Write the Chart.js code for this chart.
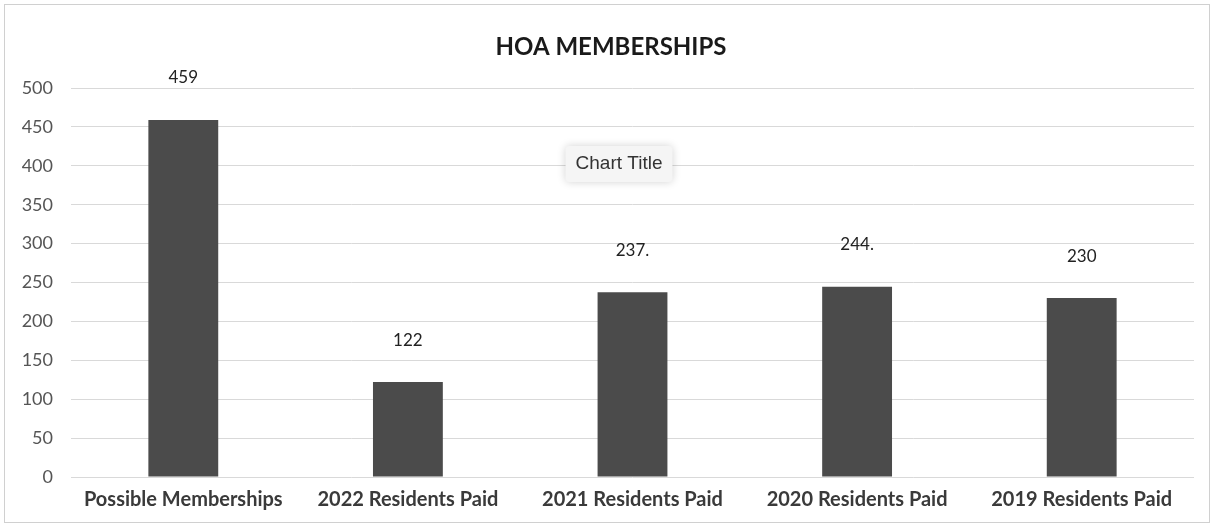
<!DOCTYPE html>
<html>
<head>
<meta charset="utf-8">
<script src="https://cdn.jsdelivr.net/npm/chart.js@4"></script>
<style>
  html, body { margin: 0; padding: 0; background: #fff; }
  #wrap { position: relative; width: 1215px; height: 529px; }
  #frame { position: absolute; left: 4px; top: 4px; width: 1206px; height: 519px; border: 1px solid #d0d0d0; box-sizing: border-box; pointer-events: none; }
  canvas { display: block; }
</style>
</head>
<body>
<div id="wrap">
  <canvas id="c" width="1215" height="529"></canvas>
  <div id="frame"></div>
</div>
<script>
const chartTitle = "HOA MEMBERSHIPS";
const categories = ["Possible Memberships", "2022 Residents Paid", "2021 Residents Paid", "2020 Residents Paid", "2019 Residents Paid"];
const values = [459, 122, 237.5, 244.5, 230];
const valueLabels = ["459", "122", "237.", "244.", "230"];
const yMin = 0, yMax = 500, yStep = 50;
const overlayText = "Chart Title";

const FONT = "Lato, 'Open Sans', 'Liberation Sans', sans-serif";

const decor = {
  id: 'decor',
  afterDatasetsDraw(chart) {
    const ctx = chart.ctx;
    const meta = chart.getDatasetMeta(0);
    ctx.save();
    ctx.font = "17px " + FONT;
    ctx.fillStyle = "#222";
    ctx.textAlign = "center";
    ctx.textBaseline = "middle";
    meta.data.forEach((bar, i) => {
      ctx.fillText(valueLabels[i], bar.x, bar.y - 42);
    });
    ctx.restore();
  },
  afterDraw(chart) {
    const ctx = chart.ctx;
    ctx.save();
    // title
    ctx.font = "bold 24px " + FONT;
    ctx.fillStyle = "#1a1a1a";
    ctx.textAlign = "center";
    ctx.textBaseline = "middle";
    ctx.fillText(chartTitle, 611, 47);
    // overlay "Chart Title" box
    ctx.font = "19px 'Liberation Sans', Arial, sans-serif";
    const tw = ctx.measureText(overlayText).width;
    const cx = 619, cy = 164, w = tw + 20, h = 36;
    ctx.shadowColor = "rgba(0,0,0,0.18)";
    ctx.shadowBlur = 8;
    ctx.fillStyle = "#f5f5f5";
    ctx.beginPath();
    ctx.roundRect(cx - w / 2, cy - h / 2, w, h, 4);
    ctx.fill();
    ctx.shadowBlur = 0;
    ctx.shadowColor = "transparent";
    ctx.fillStyle = "#333";
    ctx.fillText(overlayText, cx, cy);
    ctx.restore();
  }
};

new Chart(document.getElementById('c'), {
  type: 'bar',
  data: {
    labels: categories,
    datasets: [{
      data: values,
      backgroundColor: "#4b4b4b",
      borderWidth: 0,
      categoryPercentage: 1.0,
      barPercentage: 0.311
    }]
  },
  options: {
    responsive: false,
    animation: false,
    devicePixelRatio: 1,
    layout: { padding: { top: 88, right: 21, bottom: 0, left: 0 } },
    plugins: { legend: { display: false }, title: { display: false }, tooltip: { enabled: false } },
    scales: {
      x: {
        grid: { display: false, drawTicks: false },
        border: { display: false },
        ticks: { font: { family: FONT, size: 20, weight: 'bold' }, color: "#3a3a3a", padding: 11, maxRotation: 0, autoSkip: false },
        afterFit(scale) { scale.height = 52; }
      },
      y: {
        min: yMin, max: yMax,
        ticks: { stepSize: yStep, font: { family: FONT, size: 18 }, color: "#555", padding: 18 },
        grid: { color: "#d9d9d9", drawTicks: false, lineWidth: 1 },
        border: { display: false },
        afterFit(scale) { scale.width = 71; }
      }
    }
  },
  plugins: [decor]
});
</script>
</body>
</html>
